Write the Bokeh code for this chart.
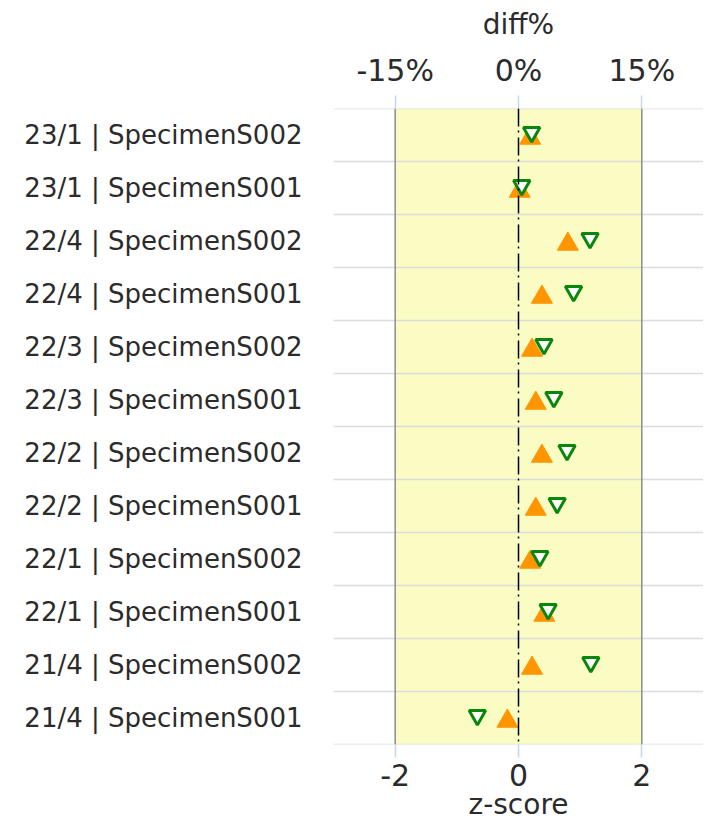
from bokeh.plotting import figure
from bokeh.models import (Range1d, FactorRange, LinearAxis, FixedTicker,
                          BoxAnnotation, Span, ColumnDataSource)
from bokeh.transform import dodge
from bokeh.embed import file_html
from bokeh.resources import INLINE

# categories listed top to bottom as in the chart
categories = ["23/1 | SpecimenS002", "23/1 | SpecimenS001",
              "22/4 | SpecimenS002", "22/4 | SpecimenS001",
              "22/3 | SpecimenS002", "22/3 | SpecimenS001",
              "22/2 | SpecimenS002", "22/2 | SpecimenS001",
              "22/1 | SpecimenS002", "22/1 | SpecimenS001",
              "21/4 | SpecimenS002", "21/4 | SpecimenS001"]
z_scores = [0.19, 0.02, 0.80, 0.38, 0.22, 0.28, 0.38, 0.28, 0.19, 0.42, 0.22, -0.18]
diff_pct = [1.6, 0.4, 8.7, 6.7, 3.1, 4.3, 5.9, 4.7, 2.6, 3.6, 8.8, -5.0]
z_ticks = [-2, 0, 2]
diff_ticks = [-15, 0, 15]
z_limit = 2
z_range = (-3, 3)
diff_range = (-22.5, 22.5)

FONT = "DejaVu Sans"
TXT = "#2b2b2b"
TICK_C = "#c8d6ea"

source = ColumnDataSource(dict(cat=categories, z=z_scores, d=diff_pct))

p = figure(width=703, height=824, output_backend="svg", toolbar_location=None,
           x_range=Range1d(*z_range),
           y_range=FactorRange(factors=list(reversed(categories)), range_padding=0),
           x_axis_location="below",
           min_border_left=333, min_border_top=108, min_border_bottom=80,
           min_border_right=0)
p.extra_x_ranges = {"diff": Range1d(*diff_range)}
p.outline_line_color = None
p.xgrid.visible = False
p.ygrid.visible = False

# acceptable band
p.add_layout(BoxAnnotation(left=-z_limit, right=z_limit, fill_color="#fafcc3",
                           fill_alpha=1, line_color=None, level="underlay"))
# row separators
p.hspan(y=list(range(len(categories) + 1)), line_color="#dcdcdc", line_width=1.5)
for loc in (-z_limit, z_limit):
    p.add_layout(Span(location=loc, dimension="height", line_color="#8c8c8c",
                      line_width=1.5))
p.add_layout(Span(location=0, dimension="height", line_color="black",
                  line_width=1.5, line_dash="18 4 2 5"))

# markers centred in their rows (bounding box centred rather than centroid)
p.scatter("z", dodge("cat", -0.06, range=p.y_range), source=source,
          marker="triangle", size=21,
          fill_color="#ff9500", line_color="#ff9500", line_width=1)
p.scatter("d", dodge("cat", 0.05, range=p.y_range), source=source,
          marker="inverted_triangle", size=16.5,
          fill_color="white", line_color="#0a870a", line_width=3,
          x_range_name="diff")

# bottom axis (z-score)
xa = p.xaxis[0]
xa.ticker = FixedTicker(ticks=z_ticks)
xa.major_label_overrides = {t: str(t) for t in z_ticks}
xa.axis_label = "z-score"

# top axis (diff%)
ta = LinearAxis(x_range_name="diff", ticker=FixedTicker(ticks=diff_ticks),
                axis_label="diff%")
ta.major_label_overrides = {t: f"{t}%" for t in diff_ticks}
p.add_layout(ta, "above")

for ax in (xa, ta):
    ax.axis_line_color = None
    ax.major_tick_line_color = TICK_C
    ax.major_tick_line_width = 1.5
    ax.major_tick_out = 13
    ax.major_tick_in = 0
    ax.minor_tick_line_color = None
    ax.major_label_text_font = FONT
    ax.major_label_text_font_size = "30px"
    ax.major_label_text_color = TXT
    ax.axis_label_text_font = FONT
    ax.axis_label_text_font_size = "28px"
    ax.axis_label_text_font_style = "normal"
    ax.axis_label_text_color = TXT

xa.major_label_standoff = 6
xa.axis_label_standoff = -1
ta.major_label_standoff = 8
ta.axis_label_standoff = 9

ya = p.yaxis[0]
ya.axis_line_color = None
ya.major_tick_line_color = None
ya.minor_tick_line_color = None
ya.major_tick_out = 0
ya.major_tick_in = 0
ya.major_label_standoff = 31
ya.major_label_text_font = FONT
ya.major_label_text_font_size = "26px"
ya.major_label_text_color = TXT

open("out.html", "w").write(file_html(p, INLINE))
